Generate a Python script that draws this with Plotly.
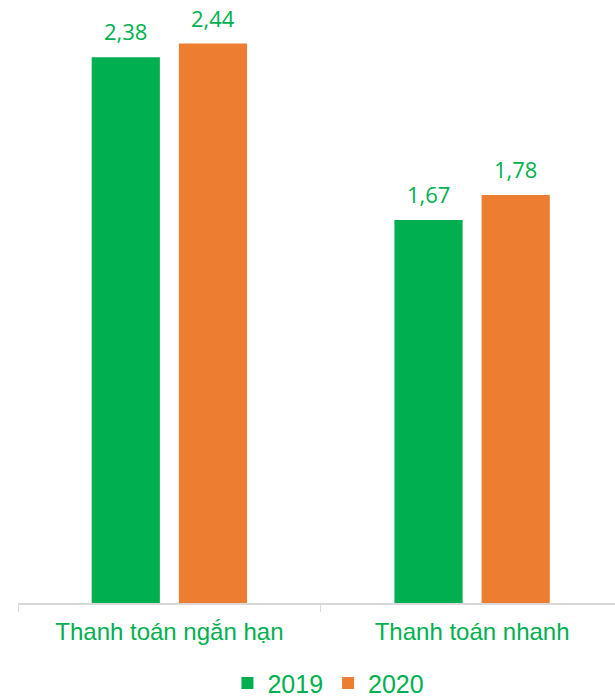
import plotly.graph_objects as go

categories = ["Thanh toán ngắn hạn", "Thanh toán nhanh"]
years = ["2019", "2020"]
values_2019 = [2.38, 1.67]
values_2020 = [2.44, 1.78]
colors = ["#00B050", "#ED7D31"]
text_green = "#00B050"

def fmt(v):
    return f"{v:.2f}".replace(".", ",")

fig = go.Figure()
for name, vals, col in zip(years, [values_2019, values_2020], colors):
    fig.add_trace(go.Bar(
        name=name, x=categories, y=vals, marker_color=col, marker_line_width=0,
    ))

# value labels
for vals, shift in zip([values_2019, values_2020], [-43.5, 43.5]):
    for cat, v in zip(categories, vals):
        fig.add_annotation(x=cat, y=v, text=fmt(v), showarrow=False,
                           xshift=shift, yshift=26, yanchor="middle",
                           font=dict(color=text_green, size=22, family="Open Sans"))

fig.update_layout(
    width=615, height=698,
    margin=dict(l=18, r=0, t=0, b=95, autoexpand=False),
    paper_bgcolor="white", plot_bgcolor="white",
    barmode="group", bargap=0.424, bargroupgap=0.218,
    showlegend=True,
    legend=dict(orientation="h", x=0.52, xanchor="center", y=-0.133, yanchor="middle",
                font=dict(color=text_green, size=25, family="Liberation Sans"),
                itemwidth=30, traceorder="normal", tracegroupgap=0,
                bgcolor="rgba(0,0,0,0)"),
    xaxis=dict(range=[-0.5, 1.472], showline=True, linecolor="#D9D9D9", linewidth=1.5,
               ticks="outside", tickson="boundaries", ticklen=7, tickcolor="#D9D9D9",
               ticklabelstandoff=6,
               tickfont=dict(color=text_green, size=24, family="Liberation Sans"),
               showgrid=False),
    yaxis=dict(range=[0, 2.63], visible=False, showgrid=False),
)

fig.write_html("out.html")
